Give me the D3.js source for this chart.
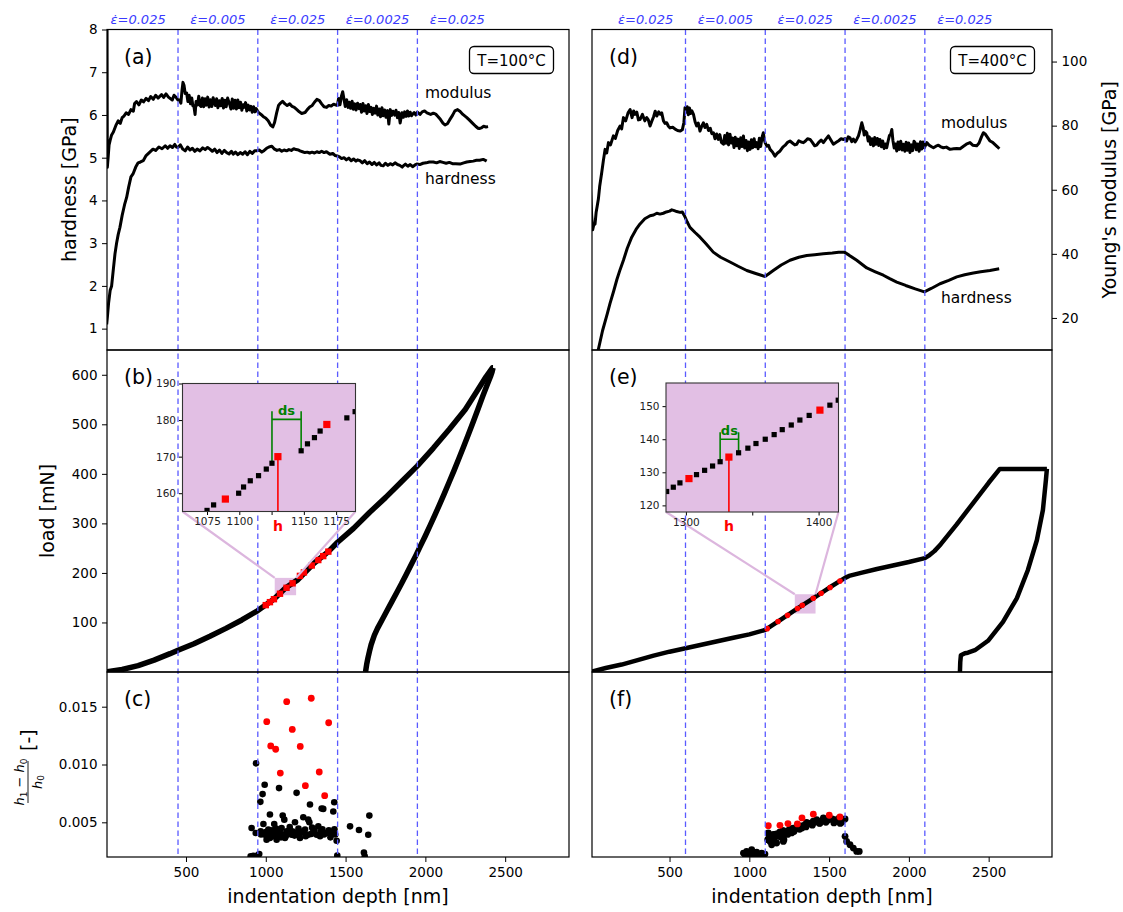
<!DOCTYPE html>
<html><head><meta charset="utf-8">
<script src="https://cdn.jsdelivr.net/npm/d3@7"></script>
<style>
body{margin:0;background:#fff;}
svg{display:block;font-family:"DejaVu Sans",sans-serif;}
</style></head>
<body><svg id="fig" width="1123" height="912"></svg>
<script>
// ---------- data: depth [nm] vs value ----------
// strain-rate segment boundaries and labels
const rateLabels = ["0.025", "0.005", "0.025", "0.0025", "0.025"];
const jumpsL = [450, 950, 1450, 1950];
const jumpsR = [600, 1100, 1600, 2100];
const rateLabelPosL = [200, 700, 1200, 1700, 2200];
const rateLabelPosR = [350, 850, 1350, 1850, 2350];

// (a) T=100°C hardness [GPa]
const hardnessA = [[3,1.1],[8,1.3],[15,1.6],[25,1.9],[34,2.0],[45,2.4],[55,2.75],[65,3.0],[75,3.2],[86,3.37],[100,3.65],[115,3.9],[128,4.07],[140,4.3],[155,4.55],[168,4.62],[185,4.78],[200,4.88],[215,4.9],[232,4.93],[250,5.05],[270,5.12],[293,5.2],[310,5.17],[330,5.25],[350,5.21],[370,5.28],[385,5.22],[400,5.28],[415,5.24],[430,5.31],[440,5.25],[450,5.24],
[465,5.3],[480,5.2],[495,5.16],[510,5.25],[525,5.18],[540,5.22],[555,5.15],[570,5.2],[588,5.16],[605,5.23],[620,5.19],[635,5.24],[650,5.2],[665,5.15],[680,5.2],[695,5.12],[710,5.18],[725,5.1],[740,5.17],[755,5.12],[770,5.09],[785,5.15],[796,5.08],[810,5.13],[825,5.07],[840,5.12],[855,5.08],[870,5.14],[885,5.07],[900,5.15],[915,5.1],[930,5.16],[944,5.16],
[960,5.18],[975,5.13],[990,5.17],[1005,5.22],[1020,5.25],[1038,5.27],[1055,5.2],[1070,5.17],[1085,5.19],[1100,5.15],[1115,5.18],[1130,5.16],[1145,5.19],[1160,5.17],[1175,5.21],[1190,5.19],[1205,5.18],[1214,5.16],[1230,5.14],[1245,5.12],[1260,5.13],[1275,5.11],[1290,5.13],[1305,5.11],[1320,5.14],[1335,5.12],[1350,5.15],[1365,5.12],[1380,5.14],[1402,5.08],[1420,5.1],[1435,5.05],[1448,5.04],
[1462,5.02],[1475,4.98],[1490,5.0],[1505,4.95],[1520,4.99],[1535,4.93],[1550,4.97],[1565,4.92],[1575,4.95],[1590,4.93],[1605,4.88],[1620,4.93],[1635,4.86],[1650,4.9],[1665,4.84],[1680,4.89],[1695,4.83],[1710,4.88],[1722,4.82],[1736,4.81],[1750,4.87],[1765,4.82],[1780,4.86],[1795,4.83],[1810,4.88],[1825,4.84],[1840,4.82],[1855,4.78],[1862,4.81],[1875,4.85],[1890,4.8],[1905,4.84],[1920,4.79],[1935,4.83],[1946,4.85],
[1965,4.84],[1985,4.87],[2005,4.88],[2025,4.9],[2050,4.9],[2070,4.88],[2090,4.91],[2110,4.89],[2130,4.87],[2150,4.89],[2170,4.86],[2190,4.86],[2217,4.85],[2240,4.88],[2259,4.9],[2280,4.91],[2300,4.92],[2320,4.94],[2340,4.94],[2363,4.96],[2375,4.94],[2384,4.92]];

// (a) T=100°C Young's modulus [GPa]
const modulusA = [[2,140],[5,118],[7,67],[12,70],[18,74],[25,75.5],[33,77],[45,78],[60,80],[75,81.5],[88,80.7],[100,82.5],[111,83],[125,84],[140,83.5],[155,85],[170,84.5],[178,86.9],[190,87.5],[205,86.5],[220,88],[234,87.4],[250,88.5],[265,87.8],[279,89.1],[295,88.2],[310,89.5],[325,88.6],[347,89.7],[360,88.8],[375,89.9],[390,88.9],[414,88.0],[425,89.5],[440,88.7],[450,88.0],
[459,88.0],[468,87.0],[475,91],[481,93.5],[488,92.5],[495,90],[504,90.2],[512,87.5],[520,89.5],[528,86.8],[536,88.6],[543,86.2],[549,86.3],[557,83.5],[563,87.5],[572,86.5],[580,89.2],[588,86.3],[594,86.0],[603,88.6],[611,85.9],[620,88.4],[628,86.4],[636,88.9],[645,85.8],[653,88.1],[662,86.0],[670,88.7],[684,86.3],[692,88.4],[700,85.6],[709,87.8],[718,86.2],[727,88.5],[735,85.5],[744,87.9],[752,85.9],[761,88.6],[774,86.6],[782,85.2],[790,88.3],[799,85.4],[808,87.9],[816,85.2],[825,88.0],[833,85.6],[842,87.3],[850,84.8],[858,86.5],[864,85.7],[873,87.2],[881,84.6],[890,86.4],[898,84.9],[907,86.0],[915,84.2],[924,85.9],[932,84.3],[940,85.3],[954,84.1],
[970,83.5],[985,82.8],[999,82.4],[1015,81.5],[1030,80.2],[1044,79.6],[1055,81],[1068,84],[1080,86.3],[1089,86.9],[1105,87.6],[1120,86.8],[1134,86.3],[1150,86.8],[1165,86],[1179,85.7],[1195,85],[1210,84.3],[1225,83.8],[1246,84.1],[1260,85],[1275,85.8],[1291,86.3],[1305,87.3],[1320,88.2],[1336,87.8],[1350,86.8],[1365,85.9],[1381,85.7],[1395,86.3],[1410,86.1],[1425,86.7],[1440,86.4],[1449,86.3],
[1456,88.5],[1465,86.5],[1474,89.2],[1482,90.6],[1490,88.2],[1498,86.0],[1507,88.1],[1516,85.7],[1524,87.3],[1532,85.4],[1541,87.6],[1549,85.1],[1558,86.8],[1566,84.9],[1575,87.0],[1584,85.3],[1592,86.6],[1600,84.2],[1609,86.9],[1617,84.6],[1626,86.2],[1634,83.8],[1643,86.6],[1651,84.4],[1660,85.7],[1668,83.5],[1677,85.4],[1685,83.9],[1694,86.1],[1702,83.3],[1711,85.2],[1719,82.8],[1728,85.6],[1736,83.1],[1745,84.9],[1753,82.6],[1763,84.7],[1771,80.5],[1780,85.0],[1788,83.2],[1797,84.5],[1808,83.3],[1816,84.8],[1825,82.5],[1833,84.1],[1842,80.8],[1853,84.0],[1862,82.6],[1870,84.3],[1879,82.9],[1888,84.6],[1896,83.0],[1905,84.2],[1913,83.1],[1921,83.6],[1930,84.1],[1940,83.3],[1950,84.2],
[1966,83.5],[1980,84.3],[1995,84.6],[2010,84.0],[2033,83.5],[2050,83.9],[2065,83.6],[2080,82.8],[2095,81.9],[2110,80.8],[2123,80.2],[2138,80.6],[2152,81.8],[2170,83.2],[2185,84.6],[2202,85.0],[2218,84.4],[2235,83.5],[2258,82.6],[2275,81.8],[2295,80.8],[2315,79.8],[2330,79.2],[2338,79.1],[2350,79.3],[2365,79.8],[2380,79.6],[2393,79.7]];

// (d) T=400°C hardness [GPa]
const hardnessD = [[50,0.45],[80,0.95],[110,1.35],[127,1.59],[150,1.88],[170,2.15],[190,2.38],[211,2.60],[235,2.88],[263,3.14],[290,3.32],[315,3.45],[345,3.57],[378,3.64],[400,3.66],[420,3.70],[440,3.68],[461,3.70],[480,3.73],[500,3.75],[514,3.78],[530,3.76],[545,3.74],[566,3.72],[580,3.73],[595,3.63],[610,3.5],[628,3.37],[660,3.25],[691,3.14],[730,2.98],[774,2.79],[820,2.67],[879,2.56],[930,2.46],[984,2.36],[1040,2.29],[1098,2.22],[1120,2.28],[1150,2.36],[1200,2.49],[1255,2.60],[1310,2.67],[1360,2.71],[1410,2.73],[1464,2.75],[1520,2.77],[1560,2.79],[1595,2.79],[1625,2.72],[1673,2.60],[1736,2.42],[1790,2.33],[1840,2.25],[1880,2.17],[1924,2.09],[1980,2.01],[2040,1.93],[2097,1.86],[2140,1.94],[2195,2.05],[2250,2.13],[2300,2.21],[2350,2.26],[2404,2.30],[2450,2.33],[2508,2.36],[2566,2.40]];

// (d) T=400°C Young's modulus [GPa]
const modulusD = [[3,62],[8,56],[12,51.9],[18,47.5],[25,49],[33,49.3],[40,53],[47,55],[54,57.1],[62,61],[75,65.4],[85,69],[96,72.6],[106,71.5],[117,74.7],[130,74],[148,76.8],[160,76],[175,78.5],[190,79.9],[200,79],[211,82.5],[225,81.5],[240,84],[253,85.0],[265,82.5],[275,84.6],[284,83.5],[295,84.2],[305,81.8],[315,81.9],[330,83.5],[345,81.5],[357,82.5],[367,81.8],[378,79.9],[390,81.5],[400,82.8],[410,84.5],[420,83.0],[432,84.3],[441,83.6],[451,84.0],[462,81.5],[472,80.7],[482,80.9],[493,79.8],[503,79.3],[520,79.5],[535,78.9],[550,78.5],[566,78.3],[580,78.7],[590,81.0],
[597,85.6],[604,84.2],[611,85.9],[618,83.4],[625,85.5],[632,83.8],[640,84.6],[650,83.5],[660,81.2],[670,79.9],[680,80.8],[691,78.3],[700,79.6],[712,80.9],[722,79.4],[733,80.4],[744,78.5],[755,79.2],[765,77.5],[775,77.8],[785,75.9],[795,77.4],[806,75.7],[815,77.2],[825,74.8],[838,74.2],[846,76.9],[854,74.5],[862,77.6],[870,74.0],[879,77.3],[887,74.6],[896,76.1],[904,73.2],[912,76.4],[921,73.7],[929,75.8],[937,72.9],[946,76.2],[954,73.5],[963,76.8],[971,73.0],[980,75.4],[988,72.2],[996,74.9],[1005,72.6],[1013,75.6],[1021,73.1],[1030,75.9],[1038,73.4],[1046,74.7],[1055,72.8],[1063,76.1],[1071,73.5],[1080,76.4],[1088,77.8],[1094,75.6],[1099,74.7],
[1110,73.6],[1120,73.9],[1130,72.6],[1145,71.8],[1161,70.5],[1175,71.4],[1193,72.1],[1210,73.3],[1225,73.9],[1240,74.8],[1255,75.2],[1270,74.6],[1285,74.0],[1297,74.2],[1310,75.3],[1325,74.9],[1339,74.7],[1352,75.2],[1365,75.9],[1381,75.7],[1395,74.8],[1410,73.7],[1422,73.9],[1435,74.8],[1450,75.5],[1464,74.7],[1480,75.8],[1496,76.8],[1510,75.6],[1527,74.2],[1545,74.8],[1560,75.3],[1575,75.9],[1590,75.7],
[1600,76.0],[1610,75.2],[1620,76.5],[1631,76.2],[1642,75.0],[1652,75.8],[1663,74.9],[1673,75.7],[1684,76.8],[1694,78.6],[1705,80.9],[1713,79.4],[1720,77.1],[1728,78.2],[1736,77.8],[1745,75.2],[1752,76.5],[1760,74.1],[1769,75.9],[1778,73.7],[1786,76.3],[1794,74.2],[1803,76.0],[1811,73.8],[1819,75.7],[1828,73.4],[1836,75.2],[1845,72.9],[1853,74.3],[1861,73.1],[1870,75.2],[1878,76.9],[1886,77.3],[1893,78.8],[1900,75.4],[1908,73.0],[1916,74.3],[1924,72.1],[1932,74.9],[1941,72.6],[1949,75.1],[1958,72.4],[1966,74.2],[1975,72.0],[1983,74.8],[1991,72.3],[1999,74.6],[2007,71.6],[2016,74.0],[2024,72.2],[2032,75.1],[2039,74.7],[2047,72.5],[2056,74.3],[2064,72.0],[2073,75.0],[2081,72.7],[2089,74.9],[2097,73.1],
[2112,74.7],[2125,74.0],[2140,73.5],[2154,73.1],[2170,73.6],[2185,73.9],[2200,73.4],[2216,73.1],[2235,73.3],[2258,72.6],[2280,72.8],[2300,72.9],[2321,72.8],[2340,73.5],[2360,74.2],[2383,74.7],[2400,73.9],[2425,73.7],[2440,74.6],[2455,76.5],[2467,77.8],[2480,77.3],[2495,76.2],[2509,75.2],[2525,74.8],[2540,74.1],[2555,73.4],[2567,72.8]];

// (b) load [mN], loading and unloading
const loadB = [[0,0],[5,0.3],[100,5],[200,13],[300,24],[400,37],[450,44],[550,57],[650,72],[750,88],[850,105],[950,124],[1050,147],[1125,170],[1200,186],[1300,219],[1392,243],[1450,262],[1550,290],[1650,322],[1750,352],[1850,384],[1950,416],[2050,452],[2150,490],[2250,530],[2320,565],[2380,596],[2420,614],[2424,614]];
const unloadB = [[2424,614],[2418,606],[2410,598],[2390,582],[2360,557],[2330,531],[2300,505],[2270,480],[2240,455],[2210,431],[2180,407],[2150,384],[2120,361],[2090,339],[2060,317],[2030,296],[2000,275],[1970,255],[1940,235],[1910,216],[1880,197],[1850,178],[1820,160],[1790,142],[1760,124],[1730,106],[1700,88],[1680,74],[1660,55],[1650,42],[1640,28],[1632,15],[1625,0]];
const redB = [[1000,135],[1026,141],[1051,147],[1089,158],[1130,170],[1168,179],[1214,194],[1239,201],[1288,215],[1329,226],[1360,234],[1392,243]];

// (e) load [mN], loading and unloading
const loadE = [[0,0],[14,1],[100,8],[200,15],[300,24],[400,33],[500,41],[600,48],[700,55],[800,62],[900,69],[1000,76],[1100,85],[1200,106],[1300,127.7],[1400,148.6],[1500,170],[1600,190],[1625,194],[1650,196],[1700,200],[1800,208],[1900,215],[2000,222],[2100,230],[2130,236],[2160,244],[2200,258],[2300,298],[2400,340],[2500,382],[2570,410],[2865,410]];
const unloadE = [[2865,410],[2859,388],[2840,327],[2802,266],[2746,206],[2677,149],[2590,101],[2496,63],[2414,44],[2370,39],[2351,38],[2326,34],[2322,20],[2320,0]];
const redE = [[1112,87.5],[1180,101.8],[1240,114.4],[1302,128.1],[1332,134.6],[1401,148.8],[1450,159],[1506,170.6],[1568,183.5]];

// insets: individual load-depth samples
const insetB = [[1062,153.2],[1075.0,155.3],[1080.1,156.8],[1099.5,160.0],[1103.3,161.7],[1108.5,163.4],[1114.9,164.8],[1120.9,166.6],[1125.3,168.2],[1147.9,171.6],[1152.8,173.5],[1158.2,175.2],[1162.6,177.0],[1183.3,180.6],[1189.7,182.3]];
const insetBRed = [[1089.2,158.4],[1129.9,170.0],[1167.8,178.8]];
const insetE = [[1280.5,122.9],[1285.5,124.2],[1290.5,125.5],[1295.5,126.8],[1308.0,129.3],[1314.1,130.6],[1320.1,131.9],[1325.8,133.2],[1339.7,135.9],[1346.7,137.3],[1352.8,138.7],[1359.8,140.0],[1366.5,141.4],[1372.6,142.9],[1379.4,144.3],[1385.9,145.8],[1392.9,147.2],[1408.5,150.3],[1414.8,151.8]];
const insetERed = [[1302.3,128.1],[1332.4,134.6],[1401.0,148.8]];

// (c) relative depth jump (h1-h0)/h0
const ratioC = [[939,0.01010],[993,0.00825],[980,0.00744],[966,0.00677],[1083,0.00796],[1193,0.00755],[1277,0.00654],[1350,0.00619],[1360,0.00616],[1429,0.00674],[1423,0.00593],[1026,0.00567],[1106,0.00558],[1116,0.00523],[1235,0.00544],[1266,0.00523],[1273,0.00500],[1183,0.00500],[1053,0.00486],[985,0.00486],[911,0.00451],[937,0.00408],[968,0.00422],[995,0.00393],[1026,0.00364],[1047,0.00379],[1089,0.00408],[1131,0.00422],[1162,0.00393],[1193,0.00408],[1235,0.00422],[1266,0.00393],[1298,0.00422],[1329,0.00465],[1340,0.00379],[1381,0.00408],[1413,0.00408],[1444,0.00341],[1528,0.00465],[1584,0.00434],[1649,0.00558],[1642,0.00393],[1615,0.00239],[1448,0.00213],[959,0.00225],[922,0.00210],[1005,0.00350],[1068,0.00350],[1120,0.00364],[1152,0.00437],[1214,0.00364],[1319,0.00393],[1246,0.00437],[1099,0.00451],[1016,0.00437],
[1010,0.00380],[1035,0.00395],[1060,0.00410],[1075,0.00385],[1095,0.00370],[1110,0.00395],[1125,0.00380],[1140,0.00400],[1170,0.00420],[1180,0.00385],[1200,0.00395],[1225,0.00410],[1250,0.00380],[1285,0.00400],[1305,0.00430],[1345,0.00420],[1365,0.00395],[1395,0.00430],[1405,0.00370],[1435,0.00395],[1000,0.00415],[1040,0.00430],[1065,0.00445],[1150,0.00460],[1205,0.00445],[1290,0.00455],[1355,0.00440],[970,0.00395],[1430,0.00440],[905,0.00205],[925,0.00200],[950,0.00215],[1620,0.00205]];
const ratioCRed = [[1131,0.01543],[1285,0.01573],[1006,0.01370],[1394,0.01361],[1166,0.01303],[1031,0.01161],[1062,0.01132],[1216,0.01156],[1091,0.00926],[1335,0.00935],[1248,0.00817],[1369,0.00730]];

// (f) relative depth jump (h1-h0)/h0
const ratioF = [[963,0.00234],[983,0.00248],[1015,0.00263],[1046,0.00241],[1078,0.00234],[1098,0.00225],[975,0.00215],[1000,0.00222],[1030,0.00215],[1060,0.00212],[1090,0.00210],
[1119,0.00408],[1130,0.00335],[1146,0.00364],[1161,0.00393],[1182,0.00379],[1203,0.00413],[1217,0.00350],[1234,0.00422],[1255,0.00442],[1265,0.00408],[1286,0.00437],[1307,0.00465],[1339,0.00471],[1359,0.00500],[1380,0.00489],[1401,0.00509],[1422,0.00523],[1443,0.00494],[1464,0.00538],[1485,0.00518],[1506,0.00529],[1537,0.00509],[1558,0.00532],[1579,0.00500],[1600,0.00529],
[1140,0.00306],[1171,0.00321],[1213,0.00335],
[1600,0.00379],[1610,0.00335],[1631,0.00306],[1652,0.00277],[1673,0.00248],[1689,0.00248],
[1125,0.00380],[1135,0.00360],[1150,0.00395],[1170,0.00400],[1190,0.00415],[1210,0.00430],[1225,0.00400],[1245,0.00430],[1275,0.00450],[1295,0.00455],[1320,0.00470],[1330,0.00450],[1350,0.00480],[1370,0.00485],[1390,0.00495],[1410,0.00500],[1430,0.00510],[1450,0.00505],[1475,0.00525],[1495,0.00520],[1520,0.00530],[1545,0.00520],[1570,0.00515],[1590,0.00520],[1115,0.00350],[1155,0.00345],[1200,0.00370],[1240,0.00395],[1280,0.00420],[1315,0.00440],[1355,0.00460],[1395,0.00475],[1440,0.00490],[1480,0.00500],[1530,0.00495],[1570,0.00490]];
const ratioFRed = [[1119,0.00471],[1192,0.00474],[1242,0.00489],[1301,0.00486],[1330,0.00538],[1401,0.00570],[1501,0.00561],[1568,0.00547]];

// axis ticks
const hardTicks = [1,2,3,4,5,6,7,8];
const modTicks = [20,40,60,80,100];
const loadTicks = [100,200,300,400,500,600];
const ratioTicks = [0.005,0.010,0.015];
const depthTicks = [500,1000,1500,2000,2500];

// ---------- layout ----------
const svg = d3.select("#fig");
const defs = svg.append("defs");
const BLUE = "#5a5aff";
const PLUM = "#e2bfe4";
const PLUM_LINE = "#dcb6de";

const colL = {x0:107, x1:569};
const colR = {x0:592, x1:1052};
const rowA = [29.5, 350], rowB = [350, 672], rowC = [672, 857];

const xL = d3.scaleLinear().domain([5, 2900]).range([colL.x0, colL.x1]);
const xR = d3.scaleLinear().domain([14, 2897]).range([colR.x0, colR.x1]);
const yH = d3.scaleLinear().domain([0.5, 8]).range([rowA[1], rowA[0]]);
const yE = d3.scaleLinear().domain([10, 110]).range([rowA[1], rowA[0]]);
const yP = d3.scaleLinear().domain([0, 650]).range([rowB[1], rowB[0]]);
const yR = d3.scaleLinear().domain([0.002, 0.018]).range([rowC[1], rowC[0]]);

function clipped(id, x0, x1, y0, y1) {
  defs.append("clipPath").attr("id", id).append("rect")
    .attr("x", x0).attr("y", y0).attr("width", x1 - x0).attr("height", y1 - y0);
  return svg.append("g").attr("clip-path", `url(#${id})`);
}

function drawLine(g, data, x, y, w) {
  g.append("path").datum(data)
    .attr("d", d3.line().x(d => x(d[0])).y(d => y(d[1])))
    .attr("fill", "none").attr("stroke", "#000")
    .attr("stroke-width", w).attr("stroke-linejoin", "round");
}

function styleAxis(g, size) {
  g.select(".domain").remove();
  g.selectAll(".tick line").attr("stroke", "#000").attr("stroke-width", 1);
  g.selectAll(".tick text").attr("fill", "#000")
    .style("font-family", '"DejaVu Sans", sans-serif').style("font-size", size + "px");
  g.attr("font-family", null).attr("font-size", null);
}

// ---------- panels ----------
const pa = clipped("clipA", colL.x0, colL.x1, rowA[0], rowA[1]);
const pb = clipped("clipB", colL.x0, colL.x1, rowB[0], rowB[1]);
const pc = clipped("clipC", colL.x0, colL.x1, rowC[0], rowC[1]);
const pd = clipped("clipD", colR.x0, colR.x1, rowA[0], rowA[1]);
const pe = clipped("clipE", colR.x0, colR.x1, rowB[0], rowB[1]);
const pf = clipped("clipF", colR.x0, colR.x1, rowC[0], rowC[1]);

// zoom rectangles marking the inset regions
function zoomRect(g, x, xd, yd) {
  g.append("rect")
    .attr("x", x(xd[0])).attr("width", x(xd[1]) - x(xd[0]))
    .attr("y", yP(yd[1])).attr("height", yP(yd[0]) - yP(yd[1]))
    .attr("fill", PLUM);
}
const insetBDom = {x:[1056,1190], y:[155,190]};
const insetEDom = {x:[1285,1415], y:[118,157]};
zoomRect(pb, xL, insetBDom.x, insetBDom.y);
zoomRect(pe, xR, insetEDom.x, insetEDom.y);

// strain-rate jump positions
function jumpLines(x, jumps) {
  svg.append("g").selectAll("line").data(jumps).join("line")
    .attr("x1", d => x(d)).attr("x2", d => x(d))
    .attr("y1", rowA[0]).attr("y2", rowC[1])
    .attr("stroke", BLUE).attr("stroke-width", 1.3)
    .attr("stroke-dasharray", "5.5,3.5");
}
jumpLines(xL, jumpsL);
jumpLines(xR, jumpsR);

// (a), (d) hardness and modulus
drawLine(pa, modulusA, xL, yE, 3);
drawLine(pa, hardnessA, xL, yH, 3);
drawLine(pd, modulusD, xR, yE, 3);
drawLine(pd, hardnessD, xR, yH, 3);

// (b), (e) load-depth curves
drawLine(pb, loadB, xL, yP, 5.5);
drawLine(pb, unloadB, xL, yP, 5.5);
drawLine(pe, loadE, xR, yP, 4.5);
drawLine(pe, unloadE, xR, yP, 4.5);
pb.append("g").selectAll("rect").data(redB).join("rect")
  .attr("x", d => xL(d[0]) - 3.2).attr("y", d => yP(d[1]) - 3.2)
  .attr("width", 6.4).attr("height", 6.4).attr("fill", "red");
pe.append("g").selectAll("circle").data(redE).join("circle")
  .attr("cx", d => xR(d[0])).attr("cy", d => yP(d[1])).attr("r", 2.8).attr("fill", "red");

// (c), (f) scatter
function dots(g, data, x, color, r) {
  g.append("g").selectAll("circle").data(data).join("circle")
    .attr("cx", d => x(d[0])).attr("cy", d => yR(d[1])).attr("r", r).attr("fill", color);
}
dots(pc, ratioC, xL, "#000", 3.3);
dots(pc, ratioCRed, xL, "red", 3.4);
dots(pf, ratioF, xR, "#000", 3.4);
dots(pf, ratioFRed, xR, "red", 3.4);

// ---------- insets ----------
function inset(o) {
  const ix = d3.scaleLinear().domain(o.xd).range([o.x0, o.x1]);
  const iy = d3.scaleLinear().domain(o.yd).range([o.y1, o.y0]);
  // connectors to the zoom rectangle
  const px = o.parentX, rx0 = px(o.xd[0]), rx1 = px(o.xd[1]), ry = yP(o.yd[1]);
  const con = svg.append("g").attr("stroke", PLUM_LINE).attr("stroke-width", 2.2);
  con.append("line").attr("x1", o.x0).attr("y1", o.y1).attr("x2", rx0).attr("y2", ry);
  con.append("line").attr("x1", o.x1).attr("y1", o.y1).attr("x2", rx1).attr("y2", ry);

  svg.append("rect").attr("x", o.x0).attr("y", o.y0)
    .attr("width", o.x1 - o.x0).attr("height", o.y1 - o.y0).attr("fill", PLUM);
  const id = "clip" + o.id;
  defs.append("clipPath").attr("id", id).append("rect")
    .attr("x", o.x0).attr("y", o.y0).attr("width", o.x1 - o.x0).attr("height", o.y1 - o.y0);
  const g = svg.append("g").attr("clip-path", `url(#${id})`);

  // depth increment bracket
  const gr = g.append("g").attr("stroke", "green").attr("stroke-width", 1.6).attr("fill", "none");
  gr.append("line").attr("x1", ix(o.dsA[0])).attr("x2", ix(o.dsA[0])).attr("y1", iy(o.dsA[1])).attr("y2", iy(o.dsTop));
  gr.append("line").attr("x1", ix(o.dsB[0])).attr("x2", ix(o.dsB[0])).attr("y1", iy(o.dsB[1])).attr("y2", iy(o.dsTop));
  gr.append("line").attr("x1", ix(o.dsA[0])).attr("x2", ix(o.dsB[0])).attr("y1", iy(o.dsBar)).attr("y2", iy(o.dsBar));
  g.append("text").attr("x", (ix(o.dsA[0]) + ix(o.dsB[0])) / 2).attr("y", iy(o.dsBar) - 4)
    .attr("text-anchor", "middle").attr("fill", "green").attr("font-weight", "bold")
    .style("font-size", "13px").text("ds");
  // depth marker h
  g.append("line").attr("x1", ix(o.h[0])).attr("x2", ix(o.h[0]))
    .attr("y1", iy(o.h[1])).attr("y2", o.y1).attr("stroke", "red").attr("stroke-width", 1.6);

  g.append("g").selectAll("rect").data(o.pts).join("rect")
    .attr("x", d => ix(d[0]) - 2.6).attr("y", d => iy(d[1]) - 2.6)
    .attr("width", 5.2).attr("height", 5.2).attr("fill", "#000");
  g.append("g").selectAll("rect").data(o.reds).join("rect")
    .attr("x", d => ix(d[0]) - 3.6).attr("y", d => iy(d[1]) - 3.6)
    .attr("width", 7.2).attr("height", 7.2).attr("fill", "red");

  svg.append("text").attr("x", ix(o.h[0])).attr("y", o.y1 + 19)
    .attr("text-anchor", "middle").attr("fill", "red").attr("font-weight", "bold")
    .style("font-size", "14px").text("h");

  const ax = svg.append("g").attr("transform", `translate(0,${o.y1})`)
    .call(d3.axisBottom(ix).tickValues(o.xticks).tickSize(3.5).tickPadding(3)
      .tickFormat(d => o.xlabels.includes(d) ? d : ""));
  styleAxis(ax, 10.5);
  const ay = svg.append("g").attr("transform", `translate(${o.x0},0)`)
    .call(d3.axisLeft(iy).tickValues(o.yticks).tickSize(3.5).tickPadding(3).tickFormat(d3.format("d")));
  styleAxis(ay, 10.5);
  ax.selectAll(".tick text").attr("fill", "#222");
  ay.selectAll(".tick text").attr("fill", "#222");

  svg.append("rect").attr("x", o.x0).attr("y", o.y0)
    .attr("width", o.x1 - o.x0).attr("height", o.y1 - o.y0)
    .attr("fill", "none").attr("stroke", "#333").attr("stroke-width", 1.1);
}

inset({id:"IB", x0:182.5, x1:355.5, y0:383.5, y1:511.5, xd:insetBDom.x, yd:insetBDom.y,
  parentX:xL, pts:insetB, reds:insetBRed, h:[1129.9,170.0],
  dsA:[1125.3,168.2], dsB:[1147.9,171.6], dsBar:180.2, dsTop:182.4,
  xticks:[1075,1100,1125,1150,1175], xlabels:[1075,1100,1150,1175], yticks:[160,170,180,190]});
inset({id:"IE", x0:666, x1:838.5, y0:383, y1:512, xd:insetEDom.x, yd:insetEDom.y,
  parentX:xR, pts:insetE, reds:insetERed, h:[1332.4,134.6],
  dsA:[1325.8,133.2], dsB:[1339.7,135.9], dsBar:140.0, dsTop:142.1,
  xticks:[1300,1350,1400], xlabels:[1300,1400], yticks:[120,130,140,150]});

// ---------- axes ----------
const axH = svg.append("g").attr("transform", `translate(${colL.x0},0)`)
  .call(d3.axisLeft(yH).tickValues(hardTicks).tickSize(5).tickPadding(4.5).tickFormat(d3.format("d")));
styleAxis(axH, 13.5);
const axP = svg.append("g").attr("transform", `translate(${colL.x0},0)`)
  .call(d3.axisLeft(yP).tickValues(loadTicks).tickSize(5).tickPadding(4.5).tickFormat(d3.format("d")));
styleAxis(axP, 13.5);
const axR = svg.append("g").attr("transform", `translate(${colL.x0},0)`)
  .call(d3.axisLeft(yR).tickValues(ratioTicks).tickSize(5).tickPadding(4.5).tickFormat(d3.format(".3f")));
styleAxis(axR, 13.5);
const axE = svg.append("g").attr("transform", `translate(${colR.x1},0)`)
  .call(d3.axisRight(yE).tickValues(modTicks).tickSize(5).tickPadding(4.5).tickFormat(d3.format("d")));
styleAxis(axE, 13.5);
[xL, xR].forEach(x => {
  const ab = svg.append("g").attr("transform", `translate(0,${rowC[1]})`)
    .call(d3.axisBottom(x).tickValues(depthTicks).tickSize(5).tickPadding(5.5).tickFormat(d3.format("d")));
  styleAxis(ab, 13.5);
});

// spines
[[colL, rowA], [colL, rowB], [colL, rowC], [colR, rowA], [colR, rowB], [colR, rowC]].forEach(([c, r]) => {
  svg.append("rect").attr("x", c.x0).attr("y", r[0]).attr("width", c.x1 - c.x0).attr("height", r[1] - r[0])
    .attr("fill", "none").attr("stroke", "#000").attr("stroke-width", 1.2);
});

// ---------- text ----------
function label(x, y, txt, size, opts = {}) {
  const t = svg.append("text").attr("x", x).attr("y", y).style("font-size", size + "px").text(txt);
  if (opts.anchor) t.attr("text-anchor", opts.anchor);
  if (opts.fill) t.attr("fill", opts.fill);
  if (opts.italic) t.attr("font-style", "italic");
  if (opts.rotate) t.attr("transform", `rotate(${opts.rotate},${x},${y})`);
  return t;
}

// strain-rate annotations above the top panels
rateLabels.forEach((r, i) => {
  label(xL(rateLabelPosL[i]), 24, "\u03b5\u0307=" + r, 13, {anchor: "middle", fill: "#3a3aff", italic: true});
  label(xR(rateLabelPosR[i]), 24, "\u03b5\u0307=" + r, 13, {anchor: "middle", fill: "#3a3aff", italic: true});
});

// panel letters
[["(a)", colL, rowA], ["(b)", colL, rowB], ["(c)", colL, rowC],
 ["(d)", colR, rowA], ["(e)", colR, rowB], ["(f)", colR, rowC]].forEach(([t, c, r]) => {
  label(c.x0 + 17, r[0] + 34, t, 20.5);
});

// temperature boxes
function tempBox(x0, txt) {
  svg.append("rect").attr("x", x0).attr("y", 46.5).attr("width", 84).attr("height", 27).attr("rx", 4.5)
    .attr("fill", "#fff").attr("stroke", "#000").attr("stroke-width", 1.3);
  label(x0 + 42, 65.5, txt, 15, {anchor: "middle"});
}
tempBox(469.5, "T=100\u00b0C");
tempBox(950.5, "T=400\u00b0C");

// curve names
label(425, 98, "modulus", 15.5);
label(425, 184, "hardness", 15.5);
label(941, 128, "modulus", 15.5);
label(941, 303, "hardness", 15.5);

// axis titles
label(76, (rowA[0] + rowA[1]) / 2, "hardness [GPa]", 19, {anchor: "middle", rotate: -90});
label(54, (rowB[0] + rowB[1]) / 2, "load [mN]", 19, {anchor: "middle", rotate: -90});
label(1116, (rowA[0] + rowA[1]) / 2, "Young's modulus [GPa]", 19, {anchor: "middle", rotate: -90});
label((colL.x0 + colL.x1) / 2, 903, "indentation depth [nm]", 19, {anchor: "middle"});
label((colR.x0 + colR.x1) / 2, 903, "indentation depth [nm]", 19, {anchor: "middle"});

// fraction label for panel (c)
const fl = svg.append("g").attr("transform", "translate(28,803) rotate(-90)");
const num = fl.append("text").attr("x", 21).attr("y", -4).attr("text-anchor", "middle").style("font-size", "13px");
num.append("tspan").attr("font-style", "italic").text("h");
num.append("tspan").style("font-size", "9px").attr("dy", 2.5).text("1");
num.append("tspan").attr("dy", -2.5).text(" \u2212 ");
num.append("tspan").attr("font-style", "italic").text("h");
num.append("tspan").style("font-size", "9px").attr("dy", 2.5).text("0");
fl.append("line").attr("x1", 0).attr("x2", 42).attr("y1", 0).attr("y2", 0).attr("stroke", "#000").attr("stroke-width", 0.9);
const den = fl.append("text").attr("x", 21).attr("y", 13.5).attr("text-anchor", "middle").style("font-size", "13px");
den.append("tspan").attr("font-style", "italic").text("h");
den.append("tspan").style("font-size", "9px").attr("dy", 2.5).text("0");
fl.append("text").attr("x", 52).attr("y", 6.5).style("font-size", "19px").text("[-]");
</script>
</body></html>
